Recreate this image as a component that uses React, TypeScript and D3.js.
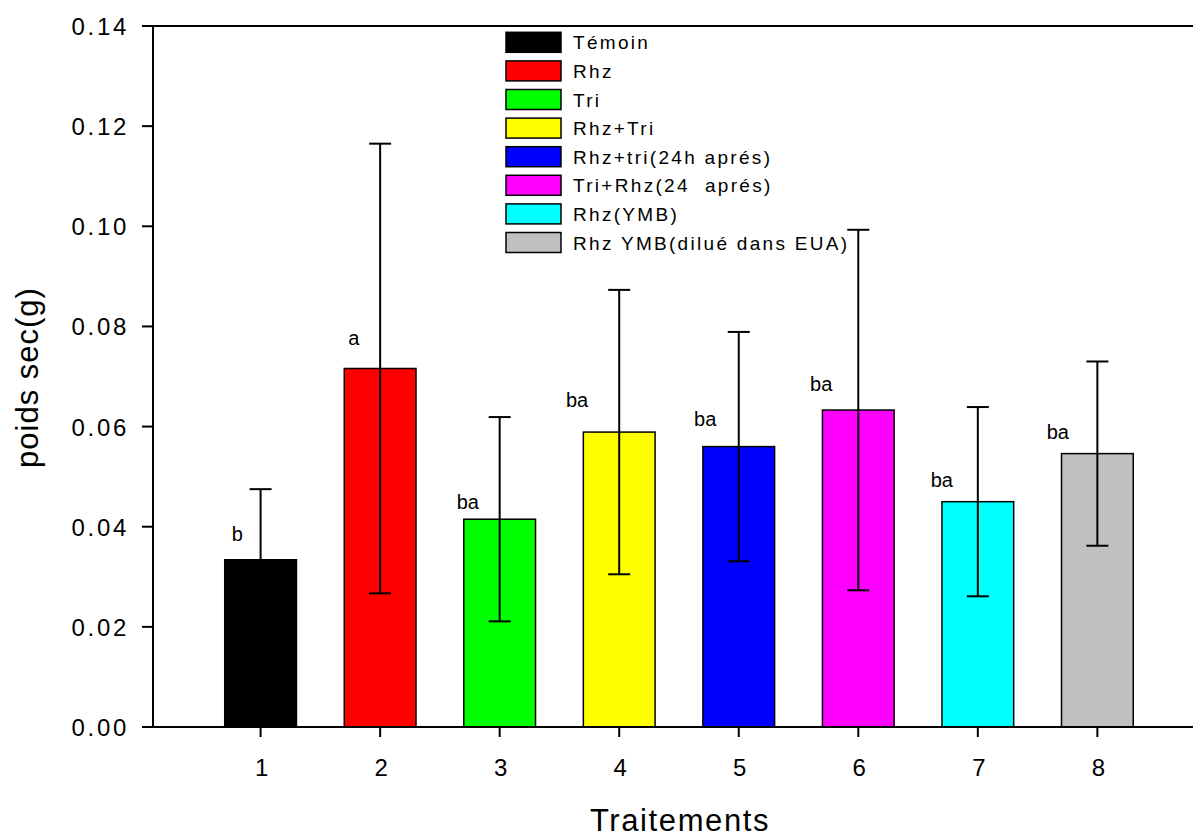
import React from "react";
import * as d3 from "d3";

const categories = [1, 2, 3, 4, 5, 6, 7, 8];
const treatments = [
  "Témoin",
  "Rhz",
  "Tri",
  "Rhz+Tri",
  "Rhz+tri(24h aprés)",
  "Tri+Rhz(24  aprés)",
  "Rhz(YMB)",
  "Rhz YMB(dilué dans EUA)",
];
const colors = ["#000000", "#ff0000", "#00ff00", "#ffff00", "#0000ff", "#ff00ff", "#00ffff", "#c0c0c0"];
const means = [0.0334, 0.0716, 0.0415, 0.0589, 0.056, 0.0633, 0.045, 0.0546];
const errors = [0.0141, 0.0449, 0.0204, 0.0284, 0.0229, 0.036, 0.0189, 0.0184];
const letters = ["b", "a", "ba", "ba", "ba", "ba", "ba", "ba"];
// annotation anchor (data units): left x in category units, baseline in value units
const letterX = [0.758, 1.734, 2.641, 3.555, 4.626, 5.597, 6.606, 7.576];
const letterY = [0.03715, 0.07629, 0.04354, 0.06397, 0.06018, 0.06717, 0.048, 0.05746];
const yTicks = [0, 0.02, 0.04, 0.06, 0.08, 0.1, 0.12, 0.14];

const W = 1193;
const H = 838;
const FONT = "'Liberation Sans', Arial, Helvetica, sans-serif";

export default function App() {
  const left = 153;
  const right = 1193;
  const top = 26;
  const bottom = 727;
  const x = d3.scaleLinear().domain([0.1, 8.8]).range([left, right]);
  const y = d3.scaleLinear().domain([0, 0.14]).range([bottom, top]);
  const barW = x(0.6) - x(0);
  const capHalf = 11;

  const legX = 506;
  const legTop = 32.3;
  const legStep = 28.6;

  return (
    <svg
      width={W}
      height={H}
      style={{ position: "absolute", left: 0, top: 0, background: "#fff" }}
      fontFamily={FONT}
    >
      <rect x={0} y={0} width={W} height={H} fill="#fff" />
      {/* bars */}
      {categories.map((c, i) => (
        <rect
          key={"b" + c}
          x={x(c) - barW / 2}
          y={y(means[i])}
          width={barW}
          height={y(0) - y(means[i])}
          fill={colors[i]}
          stroke="#000"
          strokeWidth={1.5}
        />
      ))}
      {/* error bars */}
      {categories.map((c, i) => {
        const cx = x(c);
        const y1 = y(means[i] + errors[i]);
        const y2 = y(means[i] - errors[i]);
        return (
          <g key={"e" + c} stroke="#000" strokeWidth={2}>
            <line x1={cx} x2={cx} y1={y1} y2={y2} />
            <line x1={cx - capHalf} x2={cx + capHalf} y1={y1} y2={y1} />
            <line x1={cx - capHalf} x2={cx + capHalf} y1={y2} y2={y2} />
          </g>
        );
      })}
      {/* letters */}
      {categories.map((c, i) => (
        <text key={"l" + c} x={x(letterX[i])} y={y(letterY[i])} fontSize={20} fill="#000">
          {letters[i]}
        </text>
      ))}
      {/* axes */}
      <line x1={left} x2={left} y1={top} y2={bottom} stroke="#000" strokeWidth={2} />
      <line x1={left} x2={right} y1={bottom} y2={bottom} stroke="#000" strokeWidth={2} />
      <line x1={left} x2={right} y1={top} y2={top} stroke="#000" strokeWidth={2} />
      {yTicks.map((t) => (
        <g key={"yt" + t}>
          <line x1={left - 11} x2={left} y1={y(t)} y2={y(t)} stroke="#000" strokeWidth={2} />
          <text
            x={129}
            y={y(t) + 9}
            textAnchor="end"
            fontSize={24}
            letterSpacing={2.7}
            fill="#000"
          >
            {d3.format(".2f")(t)}
          </text>
        </g>
      ))}
      {categories.map((c) => (
        <g key={"xt" + c}>
          <line x1={x(c)} x2={x(c)} y1={bottom} y2={bottom + 10} stroke="#000" strokeWidth={2} />
          <text x={x(c) + 1} y={776} textAnchor="middle" fontSize={24} fill="#000">
            {c}
          </text>
        </g>
      ))}
      {/* axis titles */}
      <text x={680} y={831} textAnchor="middle" fontSize={31} letterSpacing={1.6} fill="#000">
        Traitements
      </text>
      <text
        transform={`translate(38, ${(288 + 467) / 2}) rotate(-90)`}
        textAnchor="middle"
        fontSize={31}
        letterSpacing={1}
        fill="#000"
      >
        poids sec(g)
      </text>
      {/* legend */}
      {treatments.map((t, i) => (
        <g key={"lg" + i}>
          <rect
            x={legX}
            y={legTop + i * legStep}
            width={55}
            height={20}
            fill={colors[i]}
            stroke="#000"
            strokeWidth={1.5}
          />
          <text
            x={573}
            y={legTop + i * legStep + 17}
            fontSize={19}
            letterSpacing={2.3}
            fill="#000"
            style={{ whiteSpace: "pre" }}
          >
            {t}
          </text>
        </g>
      ))}
    </svg>
  );
}
